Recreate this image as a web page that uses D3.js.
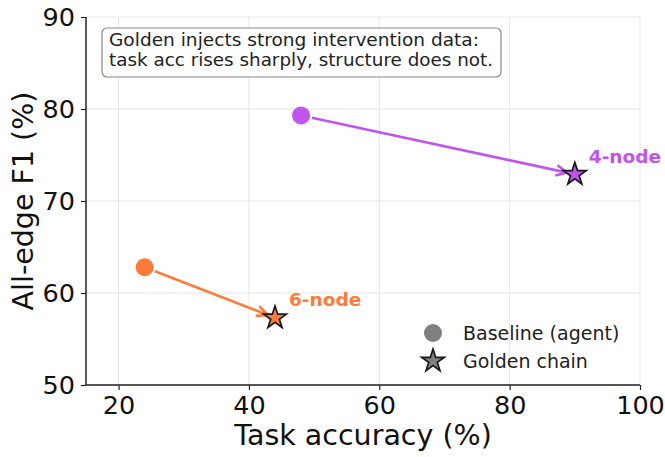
<!DOCTYPE html>
<html><head><meta charset="utf-8">
<script src="https://cdn.jsdelivr.net/npm/d3@7"></script>
<style>body{margin:0;background:#fff}svg{display:block;font-family:"DejaVu Sans",sans-serif}</style>
</head><body><svg id="c" width="665" height="457"></svg>
<script>
const groups = ["4-node", "6-node"];
const baselineAcc = [48, 24];
const baselineF1 = [79.3, 62.8];
const goldenAcc = [90, 44];
const goldenF1 = [72.9, 57.3];
const xTicks = [20, 40, 60, 80, 100];
const yTicks = [50, 60, 70, 80, 90];
const legendLabels = ["Baseline (agent)", "Golden chain"];
const noteLines = ["Golden injects strong intervention data:", "task acc rises sharply, structure does not."];
const colors = ["#bf55ec", "#ff7b3a"];

const svg = d3.select("#c");
const x = d3.scaleLinear().domain([15, 100]).range([86, 640]);
const y = d3.scaleLinear().domain([50, 90]).range([385, 17]);

// grid
svg.append("g").selectAll("line").data(xTicks).join("line")
  .attr("x1", d => x(d)).attr("x2", d => x(d)).attr("y1", y(50)).attr("y2", y(90))
  .attr("stroke", "#e6e6e6").attr("stroke-width", 1);
svg.append("g").selectAll("line").data(yTicks).join("line")
  .attr("y1", d => y(d)).attr("y2", d => y(d)).attr("x1", x(15)).attr("x2", x(100))
  .attr("stroke", "#e6e6e6").attr("stroke-width", 1);

// axes
const xAxis = svg.append("g").attr("transform", `translate(0,${y(50)})`)
  .call(d3.axisBottom(x).tickValues(xTicks).tickSize(5).tickPadding(6));
const yAxis = svg.append("g").attr("transform", `translate(${x(15)},0)`)
  .call(d3.axisLeft(y).tickValues(yTicks).tickSize(5).tickPadding(6));
[xAxis, yAxis].forEach(a => {
  a.select(".domain").attr("stroke", "#222").attr("stroke-width", 1.5);
  a.selectAll(".tick line").attr("stroke", "#222").attr("stroke-width", 1.2);
  a.selectAll(".tick text").attr("font-family", "DejaVu Sans").attr("font-size", 25.5).attr("fill", "#111");
});
xAxis.selectAll(".domain").attr("d", `M${x(15)},0H${x(100)}`);
yAxis.selectAll(".domain").attr("d", `M0,${y(50)}V${y(90)}`);

// axis titles
svg.append("text").attr("x", (x(15) + x(100)) / 2).attr("y", 445).attr("text-anchor", "middle")
  .attr("font-size", 28.5).attr("fill", "#111").text("Task accuracy (%)");
svg.append("text").attr("transform", `translate(33,${(y(50) + y(90)) / 2}) rotate(-90)`)
  .attr("text-anchor", "middle").attr("font-size", 28.5).attr("fill", "#111").text("All-edge F1 (%)");

const star = d3.symbol().type(d3.symbolStar).size(160);

// arrows
groups.forEach((g, i) => {
  const x0 = x(baselineAcc[i]), y0 = y(baselineF1[i]);
  const x1 = x(goldenAcc[i]), y1 = y(goldenF1[i]);
  const dx = x1 - x0, dy = y1 - y0, L = Math.hypot(dx, dy);
  const ux = dx / L, uy = dy / L;
  const sx = x0 + ux * 11, sy = y0 + uy * 11;
  const ex = x1 - ux * 8, ey = y1 - uy * 8;
  const col = colors[i];
  const gg = svg.append("g");
  gg.append("line").attr("x1", sx).attr("y1", sy).attr("x2", ex).attr("y2", ey)
    .attr("stroke", col).attr("stroke-width", 2.6);
  const hl = 12, ang = 0.45;
  const ba = Math.atan2(-uy, -ux);
  const p1 = [ex + hl * Math.cos(ba + ang), ey + hl * Math.sin(ba + ang)];
  const p2 = [ex + hl * Math.cos(ba - ang), ey + hl * Math.sin(ba - ang)];
  gg.append("path").attr("d", `M${p1[0]},${p1[1]}L${ex},${ey}L${p2[0]},${p2[1]}`)
    .attr("fill", "none").attr("stroke", col).attr("stroke-width", 2.6);
  svg.append("circle").attr("cx", x0).attr("cy", y0).attr("r", 9).attr("fill", col);
  svg.append("path").attr("d", star).attr("transform", `translate(${x1},${y1})`)
    .attr("fill", col).attr("stroke", "#1a1a1a").attr("stroke-width", 1.7);
  svg.append("text").attr("x", x1 + 14).attr("y", y1 - 11.5).attr("font-size", 18.5)
    .attr("font-weight", "bold").attr("fill", col).text(g);
});

// note box
const box = svg.append("g");
box.append("rect").attr("x", 102).attr("y", 28).attr("width", 399).attr("height", 49).attr("rx", 5)
  .attr("fill", "#fff").attr("fill-opacity", 0.9).attr("stroke", "#888").attr("stroke-width", 1.2);
box.selectAll("text").data(noteLines).join("text")
  .attr("x", 109).attr("y", (d, i) => 46 + i * 19.5).attr("font-size", 17).attr("fill", "#222")
  .attr("textLength", (d, i) => i === 0 ? 370 : 384).attr("lengthAdjust", "spacingAndGlyphs").text(d => d);

// legend
const lg = svg.append("g");
lg.append("circle").attr("cx", 433).attr("cy", 333).attr("r", 9).attr("fill", "#808080");
lg.append("path").attr("d", star).attr("transform", "translate(433,361)")
  .attr("fill", "#808080").attr("stroke", "#1a1a1a").attr("stroke-width", 1.7);
lg.selectAll("text").data(legendLabels).join("text")
  .attr("x", 463).attr("y", (d, i) => 339.5 + i * 28.3).attr("font-size", 19).attr("fill", "#222").text(d => d);
</script></body></html>
